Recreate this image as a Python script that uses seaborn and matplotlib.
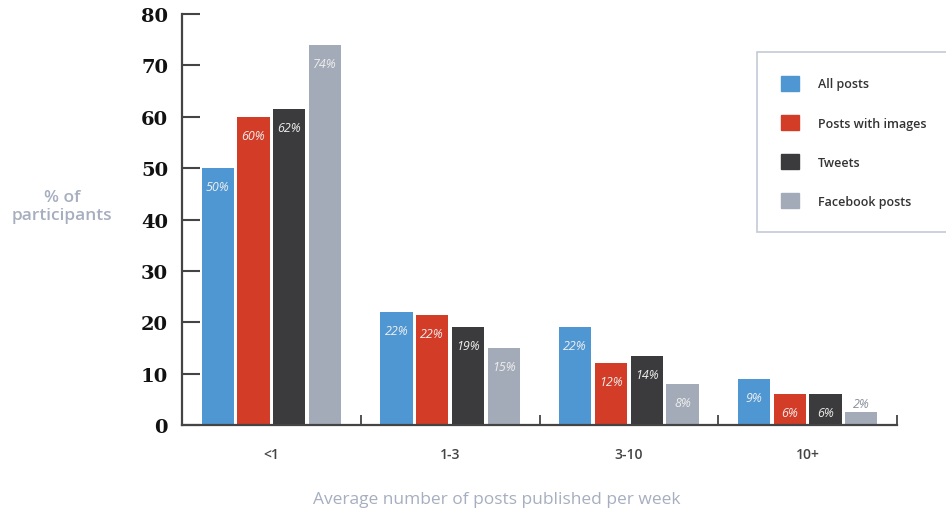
import pandas as pd
import matplotlib.pyplot as plt
import matplotlib.patches as mpatches
import seaborn as sns

# data
groups = ['<1', '1-3', '3-10', '10+']
series = ['All posts', 'Posts with images', 'Tweets', 'Facebook posts']
all_posts = [50, 22, 19, 9]
with_images = [60, 21.5, 12, 6]
tweets = [61.5, 19, 13.5, 6]
facebook = [74, 15, 8, 2.5]
# printed labels (these do not always match bar heights in the original)
all_labels = ['50%', '22%', '22%', '9%']
image_labels = ['60%', '22%', '12%', '6%']
tweet_labels = ['62%', '19%', '14%', '6%']
fb_labels = ['74%', '15%', '8%', '2%']

colors = ['#4f97d3', '#d33c27', '#3b3b3d', '#a4abb8']

rows = []
for name, vals in zip(series, [all_posts, with_images, tweets, facebook]):
    for g, v in zip(groups, vals):
        rows.append({'group': g, 'series': name, 'value': v})
df = pd.DataFrame(rows)

sns.set_style('white')
plt.rcParams['font.family'] = ['Open Sans', 'DejaVu Sans']

fig = plt.figure(figsize=(9.46, 5.10), dpi=100)
ax = fig.add_axes([182 / 946, 84 / 510, 715 / 946, 411 / 510])

sns.barplot(data=df, x='group', y='value', hue='series', order=groups,
            hue_order=series, palette=colors, width=0.8, gap=0.1,
            saturation=1, edgecolor='none', legend=False, ax=ax)

# value labels
all_text = [all_labels, image_labels, tweet_labels, fb_labels]
for cont, labels in zip(ax.containers, all_text):
    for bar, lab in zip(cont, labels):
        h = bar.get_height()
        cx = bar.get_x() + bar.get_width() / 2
        if h < 5:
            ax.text(cx, h + 1.7, lab, ha='center', va='center', fontsize=9,
                    style='italic', color='#8a8f99')
        else:
            ax.text(cx, h - 3.6, lab, ha='center', va='center', fontsize=9,
                    style='italic', color='#eeeeee')

ax.set_xlim(-0.5, 3.5)
ax.set_ylim(0, 80)
ax.set_yticks(range(0, 81, 10))
ax.set_yticklabels([str(v) for v in range(0, 81, 10)], fontfamily='DejaVu Serif',
                   fontweight='bold', fontsize=14, color='#111111')
ax.tick_params(axis='y', direction='in', length=13, width=1.5, color='#444444',
               pad=10, left=True)

ax.set_xticks(range(4))
ax.set_xticklabels(groups, fontsize=10, color='#444444', fontweight='semibold')
ax.tick_params(axis='x', length=0, pad=16)
ax.set_xticks([0.5, 1.5, 2.5, 3.5], minor=True)
ax.tick_params(axis='x', which='minor', direction='in', length=7, width=1.3,
               color='#444444', bottom=True)

for side in ['top', 'right']:
    ax.spines[side].set_visible(False)
for side in ['left', 'bottom']:
    ax.spines[side].set_color('#444444')
    ax.spines[side].set_linewidth(1.6)

ax.set_xlabel('')
ax.set_ylabel('')

fig.text(62 / 946, 1 - 207 / 510, '% of\nparticipants', ha='center', va='center',
         fontsize=12.5, color='#a6aebf', linespacing=1.15, fontweight='semibold')
fig.text(497 / 946, 1 - 500 / 510, 'Average number of posts published per week',
         ha='center', va='center', fontsize=12.5, color='#a6aebf')

handles = [mpatches.Patch(color=c, label=s) for c, s in zip(colors, series)]
leg = fig.legend(handles=handles, loc='upper left',
                 bbox_to_anchor=(757 / 946, 1 - 53 / 510), frameon=True,
                 prop={'size': 9, 'weight': 'semibold'}, borderpad=1.9,
                 labelspacing=1.95, handlelength=1.45, handleheight=1.45,
                 handletextpad=1.5, borderaxespad=0, fancybox=False)
leg.get_frame().set_edgecolor('#b4bccb')
leg.get_frame().set_linewidth(1.2)
for t in leg.get_texts():
    t.set_color('#333333')

fig.savefig('out.png', dpi=100)
